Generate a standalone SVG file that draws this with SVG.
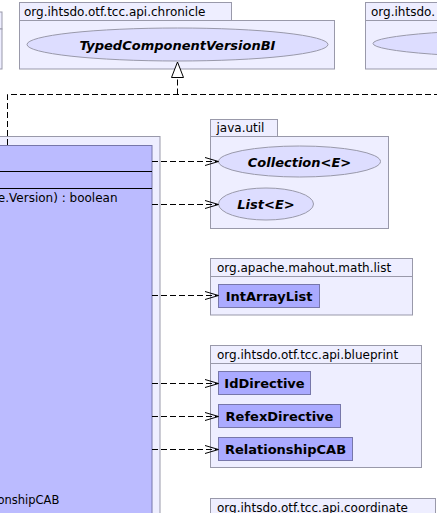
<svg xmlns="http://www.w3.org/2000/svg" width="437" height="513" viewBox="0 0 437 513">
<style>
.pkg{fill:#eeeeff;stroke:#9999aa;stroke-width:1}
.plbl{font-family:"DejaVu Sans",sans-serif;font-size:12px;fill:#000}
.iface{fill:#ddddff;stroke:#9999aa;stroke-width:1}
.ilbl{font-family:"DejaVu Sans",sans-serif;font-size:13px;font-weight:bold;font-style:italic;text-anchor:middle;fill:#000}
.cls{fill:#aaaaff;stroke:#7777aa;stroke-width:1}
.clbl{font-family:"DejaVu Sans",sans-serif;font-size:13px;font-weight:bold;text-anchor:middle;fill:#000}
.mtxt{font-family:"DejaVu Sans",sans-serif;font-size:12px;fill:#000}
.dep{fill:none;stroke:#000;stroke-width:1;stroke-dasharray:6,3}
.ah{fill:none;stroke:#000;stroke-width:1}
</style>
<rect width="437" height="513" fill="#ffffff"/>

<g id="pkg-left-top">
<rect class="pkg" x="-100" y="12" width="102" height="17"/>
<rect class="pkg" x="-100" y="29" width="102" height="40"/>
</g>

<g id="pkg-chronicle">
<rect class="pkg" x="19.5" y="2.5" width="212" height="18"/>
<rect class="pkg" x="19.5" y="20.5" width="315" height="48.5"/>
<text class="plbl" x="24" y="15.5">org.ihtsdo.otf.tcc.api.chronicle</text>
</g>
<g id="TypedComponentVersionBI">
<ellipse class="iface" cx="177.5" cy="44.5" rx="150.5" ry="16.5"/>
<text class="ilbl" x="177.5" y="49.5">TypedComponentVersionBI</text>
</g>

<g id="pkg-right-top">
<rect class="pkg" x="365.5" y="2.5" width="120" height="18"/>
<rect class="pkg" x="365.5" y="20.5" width="120" height="48.5"/>
<text class="plbl" x="371" y="15.5">org.ihtsdo.</text>
<ellipse class="iface" cx="573" cy="43.5" rx="200" ry="15"/>
</g>

<g id="pkg-main">
<rect class="pkg" x="-20" y="136.5" width="180" height="400"/>
</g>
<g id="main-class">
<rect x="-20" y="145.5" width="172" height="390" fill="#bbbbff" stroke="#7777aa" stroke-width="1"/>
<line x1="-20" y1="171.5" x2="152" y2="171.5" stroke="#000" stroke-width="1"/>
<line x1="-20" y1="188.5" x2="152" y2="188.5" stroke="#000" stroke-width="1"/>
<text class="mtxt" x="117.5" y="202" text-anchor="end">coordinate.Version) : boolean</text>
<text class="mtxt" x="59.3" y="504" text-anchor="end" style="font-size:11.5px">RelationshipCAB</text>
</g>

<g id="pkg-java-util">
<rect class="pkg" x="210.5" y="119.5" width="67" height="17"/>
<rect class="pkg" x="210.5" y="136.5" width="178" height="92"/>
<text class="plbl" x="216.5" y="132">java.util</text>
</g>
<g id="Collection">
<ellipse class="iface" cx="299.5" cy="161.5" rx="81" ry="15.5"/>
<text class="ilbl" x="299.5" y="166.5">Collection&lt;E&gt;</text>
</g>
<g id="List">
<ellipse class="iface" cx="266" cy="204" rx="47.5" ry="16"/>
<text class="ilbl" x="266" y="209">List&lt;E&gt;</text>
</g>

<g id="pkg-mahout">
<rect class="pkg" x="210.5" y="258.5" width="202" height="18"/>
<rect class="pkg" x="210.5" y="276.5" width="202" height="38.5"/>
<text class="plbl" x="217" y="272">org.apache.mahout.math.list</text>
</g>
<g id="IntArrayList">
<rect class="cls" x="218.5" y="284.5" width="101" height="23"/>
<text class="clbl" x="269" y="300.5">IntArrayList</text>
</g>

<g id="pkg-blueprint">
<rect class="pkg" x="210.5" y="345.5" width="211" height="18"/>
<rect class="pkg" x="210.5" y="363.5" width="211" height="104"/>
<text class="plbl" x="217" y="359">org.ihtsdo.otf.tcc.api.blueprint</text>
</g>
<g id="IdDirective">
<rect class="cls" x="218.5" y="371.5" width="92" height="23"/>
<text class="clbl" x="264.5" y="387.5">IdDirective</text>
</g>
<g id="RefexDirective">
<rect class="cls" x="218.5" y="404.5" width="122" height="23"/>
<text class="clbl" x="279.5" y="420.5">RefexDirective</text>
</g>
<g id="RelationshipCAB">
<rect class="cls" x="218.5" y="437.5" width="134" height="23"/>
<text class="clbl" x="285.5" y="453.5">RelationshipCAB</text>
</g>

<g id="pkg-coordinate">
<rect class="pkg" x="210.5" y="498.5" width="225" height="18"/>
<text class="plbl" x="217" y="512">org.ihtsdo.otf.tcc.api.coordinate</text>
</g>

<g id="connectors">
<path class="dep" d="M7.5,145 V94.5 H437"/>
<path class="dep" d="M177.5,94.5 V77"/>
<polygon points="177.5,62 171.5,77.5 183.5,77.5" fill="#fff" stroke="#000" stroke-width="1"/>
<path class="dep" d="M152,161.5 H218"/>
<path class="ah" d="M205,157.5 L218.5,161.5 L205,165.5"/>
<path class="dep" d="M152,204.5 H218"/>
<path class="ah" d="M205,200.5 L218.5,204.5 L205,208.5"/>
<path class="dep" d="M152,295.5 H218"/>
<path class="ah" d="M205,291.5 L218.5,295.5 L205,299.5"/>
<path class="dep" d="M152,383.5 H218"/>
<path class="ah" d="M205,379.5 L218.5,383.5 L205,387.5"/>
<path class="dep" d="M152,416.5 H218"/>
<path class="ah" d="M205,412.5 L218.5,416.5 L205,420.5"/>
<path class="dep" d="M152,449.5 H218"/>
<path class="ah" d="M205,445.5 L218.5,449.5 L205,453.5"/>
</g>
</svg>
